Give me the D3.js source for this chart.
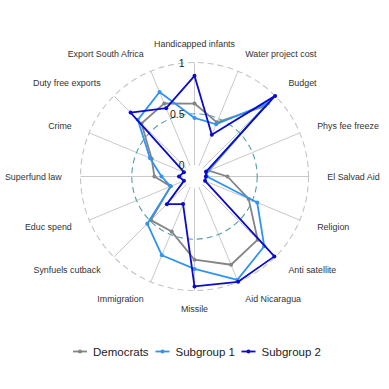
<!DOCTYPE html>
<html>
<head>
<meta charset="utf-8">
<script src="https://cdn.jsdelivr.net/npm/d3@7"></script>
<style>
  html, body { margin: 0; padding: 0; background: #fff; }
  text { font-family: "Liberation Sans", Arial, Helvetica, sans-serif; }
</style>
</head>
<body>
<div id="radar"></div>
<script>
const axes = [
  "Handicapped infants", "Water project cost", "Budget", "Phys fee freeze",
  "El Salvad Aid", "Religion", "Anti satellite", "Aid Nicaragua",
  "Missile", "Immigration", "Synfuels cutback", "Educ spend",
  "Superfund law", "Crime", "Duty free exports", "Export South Africa"
];
const democrats = [0.60, 0.46, 0.86, 0.04, 0.21, 0.46, 0.76, 0.82, 0.70, 0.47, 0.49, 0.14, 0.28, 0.34, 0.62, 0.66];
const subgroup1 = [0.46, 0.44, 0.90, 0.02, 0.01, 0.55, 0.85, 0.98, 0.79, 0.72, 0.54, 0.14, 0.21, 0.36, 0.67, 0.78];
const subgroup2 = [0.87, 0.33, 1.00, 0.01, 0.00, 0.00, 0.99, 1.00, 0.96, 0.18, 0.27, 0.00, 0.04, 0.00, 0.77, 0.61];
const seriesNames = ["Democrats", "Subgroup 1", "Subgroup 2"];
const gridTicks = [0, 0.5, 1];
const gridLabels = ["0", "0.5", "1"];

const W = 389, H = 389;
const cx = 194.5, cy = 176.5, R = 114;
const colors = ["#848484", "#2f93f2", "#0b0bcc"];

const svg = d3.select("#radar").append("svg")
  .attr("width", W).attr("height", H);

const g = svg.append("g").attr("transform", `translate(${cx},${cy})`);

// value 0 sits a little off the centre, like ggradar does
const r = d3.scaleLinear().domain([-1 / 9, 1]).range([0, R]);
const angle = d3.scaleLinear().domain([0, axes.length]).range([0, 2 * Math.PI]);

const px = (i, v) => r(v) * Math.sin(angle(i));
const py = (i, v) => -r(v) * Math.cos(angle(i));

// axis spokes
g.selectAll(".spoke").data(axes).join("line")
  .attr("x1", (d, i) => px(i, 0)).attr("y1", (d, i) => py(i, 0))
  .attr("x2", (d, i) => px(i, 1)).attr("y2", (d, i) => py(i, 1))
  .attr("stroke", "#c9c9c9").attr("stroke-width", 1);

// grid circles
g.append("circle").attr("r", r(1))
  .attr("fill", "none").attr("stroke", "#c4c4c4")
  .attr("stroke-width", 1.1).attr("stroke-dasharray", "6,4");
g.append("circle").attr("r", r(0.5))
  .attr("fill", "none").attr("stroke", "#4f9ea6")
  .attr("stroke-width", 1.1).attr("stroke-dasharray", "6,4");

// axis labels
g.selectAll(".axlab").data(axes).join("text")
  .attr("x", (d, i) => 1.165 * R * Math.sin(angle(i)))
  .attr("y", (d, i) => -1.165 * R * Math.cos(angle(i)))
  .attr("text-anchor", (d, i) => {
    const s = Math.sin(angle(i));
    return s > 0.01 ? "start" : (s < -0.01 ? "end" : "middle");
  })
  .attr("dominant-baseline", "central")
  .attr("font-size", "8.9px")
  .attr("fill", "#333")
  .text(d => d);

// series
const groups = [democrats, subgroup1, subgroup2];
const radial = d3.lineRadial()
  .angle((d, i) => angle(i))
  .radius(d => r(d))
  .curve(d3.curveLinearClosed);

groups.forEach((vals, k) => {
  g.append("path").datum(vals)
    .attr("d", radial)
    .attr("fill", "none")
    .attr("stroke", colors[k])
    .attr("stroke-width", 1.8)
    .attr("stroke-linejoin", "round");
  g.selectAll(".pt" + k).data(vals).join("circle")
    .attr("cx", (d, i) => px(i, d))
    .attr("cy", (d, i) => py(i, d))
    .attr("r", 2)
    .attr("fill", colors[k]);
});

// grid labels
g.selectAll(".glab").data(gridTicks).join("text")
  .attr("x", -10)
  .attr("y", d => -r(d))
  .attr("text-anchor", "end")
  .attr("dominant-baseline", "central")
  .attr("font-size", "10.5px")
  .attr("fill", "#222")
  .text((d, i) => gridLabels[i]);

// legend
const legend = svg.append("g").attr("transform", "translate(73,351.5)");
const offsets = [0, 82.5, 168.5];
seriesNames.forEach((name, k) => {
  const item = legend.append("g").attr("transform", `translate(${offsets[k]},0)`);
  item.append("line").attr("x1", 0).attr("x2", 14)
    .attr("stroke", colors[k]).attr("stroke-width", 1.8);
  item.append("circle").attr("cx", 7).attr("r", 2).attr("fill", colors[k]);
  item.append("text").attr("x", 20).attr("dominant-baseline", "central")
    .attr("font-size", "11.5px").attr("fill", "#222").text(name);
});
</script>
</body>
</html>
